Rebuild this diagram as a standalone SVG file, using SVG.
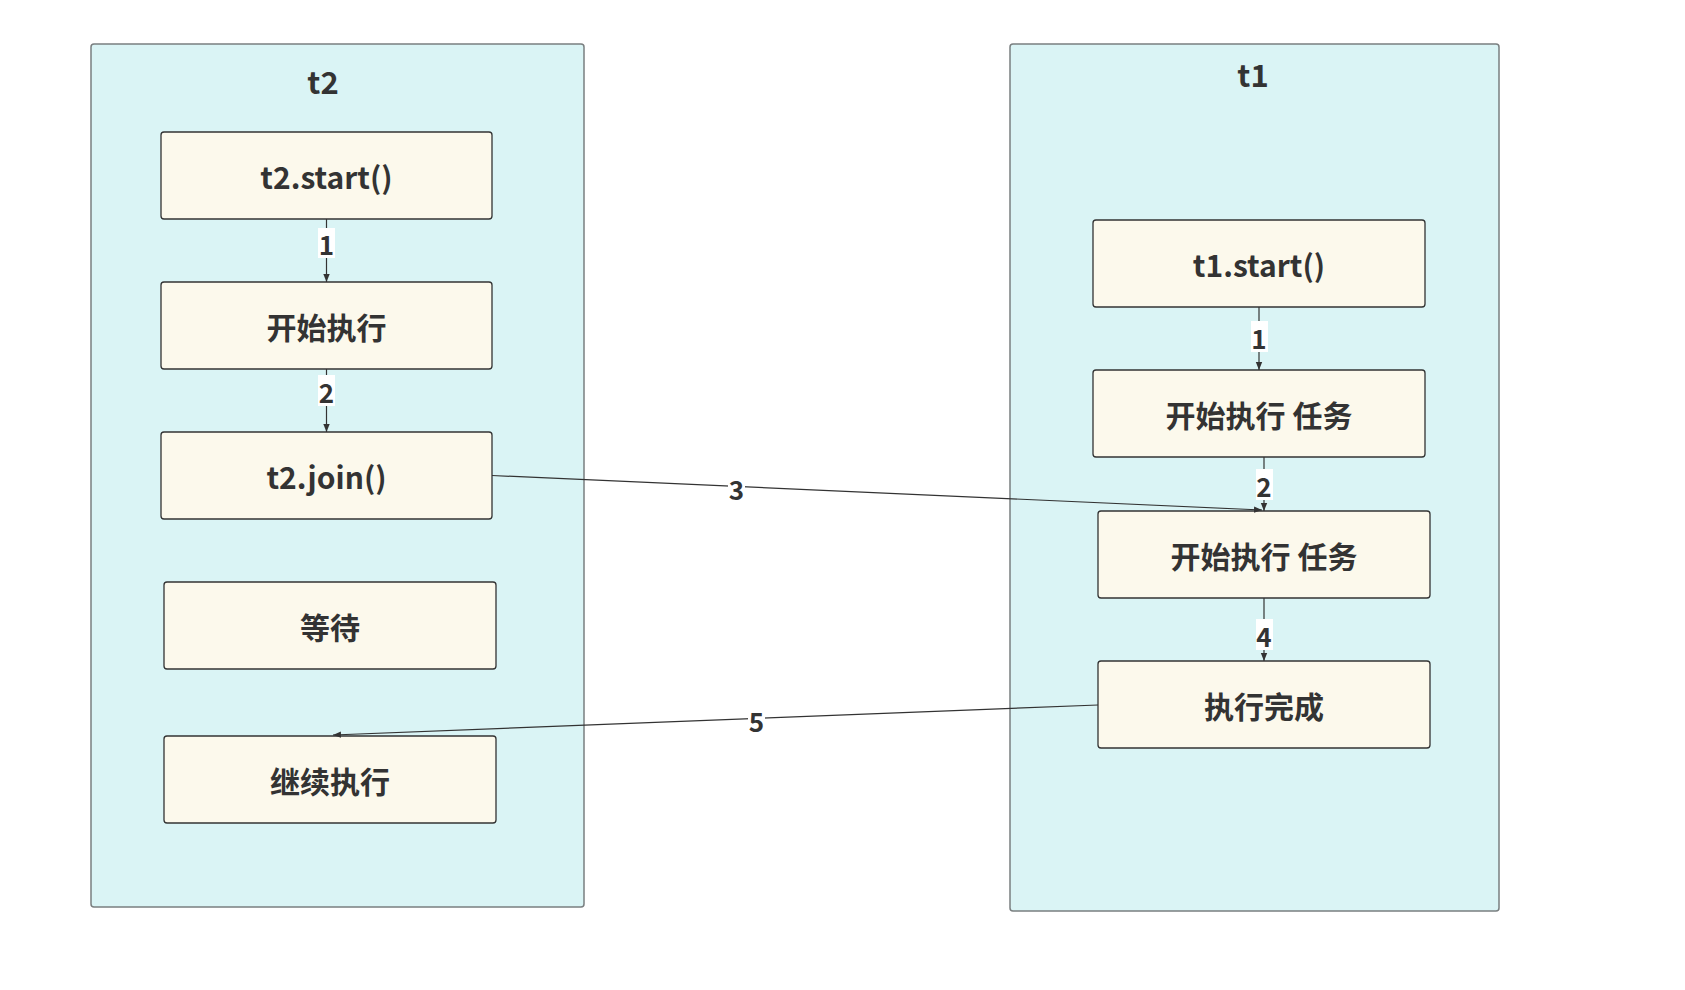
<svg xmlns="http://www.w3.org/2000/svg" width="1685" height="990" viewBox="0 0 1685 990">
<style>
.cont{fill:#daf4f5;stroke:#7a7f80;stroke-width:1.5}
.box{fill:#fcf9ec;stroke:#333;stroke-width:1.3}
.t{font-family:"Noto Sans CJK SC","Noto Sans",sans-serif;font-weight:bold;fill:#333;text-anchor:middle;dominant-baseline:central}
.title{font-size:31px}
.bt{font-size:30px}
.lt{font-size:26px}
.edge{fill:none;stroke:#333;stroke-width:1.2}
.lbg{fill:#fff}
</style>
<defs>
<marker id="arr" viewBox="0 0 10 10" refX="10" refY="5" markerWidth="8" markerHeight="8" markerUnits="userSpaceOnUse" orient="auto">
<path d="M0,1 L10,5 L0,9 z" fill="#333"/>
</marker>
</defs>
<g id="t2">
<rect class="cont" x="91" y="44" width="493" height="863" rx="3"/>
<text class="t title" x="323" y="80">t2</text>
</g>
<g id="t1">
<rect class="cont" x="1010" y="44" width="489" height="867" rx="3"/>
<text class="t title" x="1253" y="73">t1</text>
</g>
<g id="t2start"><rect class="box" x="161" y="132" width="331" height="87" rx="3"/><text class="t bt" x="326.5" y="175.5">t2.start()</text></g>
<g id="t2run"><rect class="box" x="161" y="282" width="331" height="87" rx="3"/><text class="t bt" x="326.5" y="325.5">开始执行</text></g>
<g id="t2join"><rect class="box" x="161" y="432" width="331" height="87" rx="3"/><text class="t bt" x="326.5" y="475.5">t2.join()</text></g>
<g id="t2wait"><rect class="box" x="164" y="582" width="332" height="87" rx="3"/><text class="t bt" x="330" y="625.5">等待</text></g>
<g id="t2cont"><rect class="box" x="164" y="736" width="332" height="87" rx="3"/><text class="t bt" x="330" y="779.5">继续执行</text></g>
<g id="t1start"><rect class="box" x="1093" y="220" width="332" height="87" rx="3"/><text class="t bt" x="1259" y="263.5">t1.start()</text></g>
<g id="t1run1"><rect class="box" x="1093" y="370" width="332" height="87" rx="3"/><text class="t bt" x="1259" y="413.5">开始执行 任务</text></g>
<g id="t1run2"><rect class="box" x="1098" y="511" width="332" height="87" rx="3"/><text class="t bt" x="1264" y="554.5">开始执行 任务</text></g>
<g id="t1done"><rect class="box" x="1098" y="661" width="332" height="87" rx="3"/><text class="t bt" x="1264" y="704.5">执行完成</text></g>
<g id="connectors">
<line class="edge" x1="326.5" y1="219" x2="326.5" y2="282" marker-end="url(#arr)"/>
<rect class="lbg" x="318" y="228" width="17" height="30"/>
<text class="t lt" x="326.5" y="243">1</text>
<line class="edge" x1="326.5" y1="369" x2="326.5" y2="432" marker-end="url(#arr)"/>
<rect class="lbg" x="318" y="375" width="17" height="31"/>
<text class="t lt" x="326.5" y="391">2</text>
<line class="edge" x1="492" y1="475.5" x2="1262" y2="510" marker-end="url(#arr)"/>
<rect class="lbg" x="728" y="474" width="17" height="29"/>
<text class="t lt" x="736.5" y="488">3</text>
<line class="edge" x1="1259" y1="307" x2="1259" y2="370" marker-end="url(#arr)"/>
<rect class="lbg" x="1251" y="321" width="17" height="31"/>
<text class="t lt" x="1259" y="337">1</text>
<line class="edge" x1="1264" y1="457" x2="1264" y2="511" marker-end="url(#arr)"/>
<rect class="lbg" x="1256" y="469" width="17" height="31"/>
<text class="t lt" x="1264" y="485">2</text>
<line class="edge" x1="1264" y1="598" x2="1264" y2="661" marker-end="url(#arr)"/>
<rect class="lbg" x="1256" y="619" width="17" height="31"/>
<text class="t lt" x="1264" y="635">4</text>
<line class="edge" x1="1098" y1="705" x2="333" y2="735" marker-end="url(#arr)"/>
<rect class="lbg" x="748" y="706" width="17" height="29"/>
<text class="t lt" x="756.5" y="720">5</text>
</g>
</svg>
